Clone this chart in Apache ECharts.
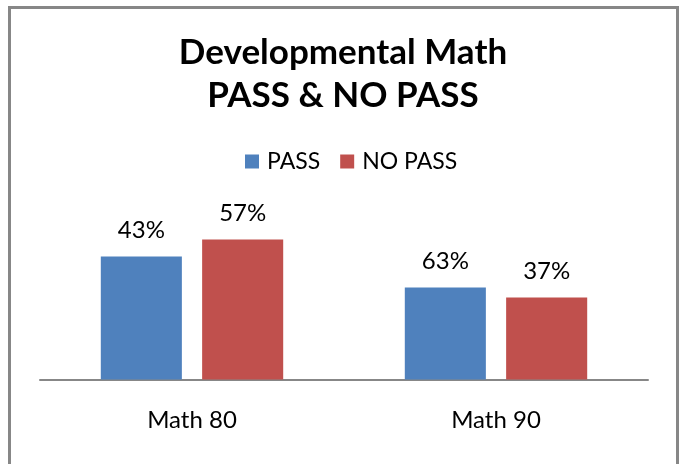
<!DOCTYPE html>
<html>
<head>
<meta charset="utf-8">
<script src="https://cdn.jsdelivr.net/npm/echarts@6/dist/echarts.min.js"></script>
<style>
  html, body { margin: 0; padding: 0; background: #fff; }
  #chart_content { width: 686px; height: 464px; }
</style>
</head>
<body>
<div id="chart_content"></div>
<script>
// categories and series (bar heights on a hidden axis, labels as shown)
const categories = ['Math 80', 'Math 90'];
const passValues = [123, 92];
const noPassValues = [140, 82];
const passLabels = ['43%', '63%'];
const noPassLabels = ['57%', '37%'];

const font = 'Lato, Carlito, Calibri, sans-serif';

let barChart = {
    __dom: null,
    __chart: null,
    __option: {},
    initChart: function () {
        this.__dom = document.getElementById('chart_content');
        this.__chart = echarts.init(this.__dom);
        this.__option = {
            animation: false,
            backgroundColor: '#ffffff',
            graphic: [
                {
                    type: 'rect',
                    shape: { x: 9.5, y: 7.5, width: 668, height: 480 },
                    style: { fill: 'none', stroke: '#878787', lineWidth: 3 },
                    silent: true
                }
            ],
            title: {
                text: 'Developmental Math\nPASS & NO PASS',
                left: 'center',
                top: 26,
                textStyle: {
                    fontFamily: font,
                    fontWeight: 'bold',
                    fontSize: 35,
                    lineHeight: 43,
                    color: '#000'
                }
            },
            legend: {
                top: 145,
                left: 240,
                itemWidth: 14,
                itemHeight: 14,
                itemGap: 20,
                icon: 'rect',
                textStyle: {
                    fontFamily: font,
                    fontSize: 23,
                    color: '#000',
                    padding: [0, 0, 0, 3]
                },
                data: ['PASS', 'NO PASS']
            },
            grid: {
                left: 40,
                right: 38,
                top: 219.5,
                bottom: 84.5,
                containLabel: false
            },
            xAxis: {
                type: 'category',
                data: categories,
                axisLine: { lineStyle: { color: '#878787', width: 2 } },
                axisTick: { show: false },
                axisLabel: {
                    margin: 29,
                    fontFamily: font,
                    fontSize: 24,
                    color: '#000'
                }
            },
            yAxis: {
                type: 'value',
                min: 0,
                max: 160,
                show: false,
                splitLine: { show: false }
            },
            series: [
                {
                    name: 'PASS',
                    type: 'bar',
                    data: passValues,
                    barGap: '25%',
                    barCategoryGap: '40%',
                    itemStyle: { color: '#4F81BD' },
                    label: {
                        show: true,
                        position: 'top',
                        distance: 14,
                        fontFamily: font,
                        fontSize: 24,
                        color: '#000',
                        formatter: p => passLabels[p.dataIndex]
                    }
                },
                {
                    name: 'NO PASS',
                    type: 'bar',
                    data: noPassValues,
                    itemStyle: { color: '#C0504D' },
                    label: {
                        show: true,
                        position: 'top',
                        distance: 14,
                        fontFamily: font,
                        fontSize: 24,
                        color: '#000',
                        formatter: p => noPassLabels[p.dataIndex]
                    }
                }
            ]
        };
        this.__chart.setOption(this.__option);
    }
}

barChart.initChart();
</script>
</body>
</html>
